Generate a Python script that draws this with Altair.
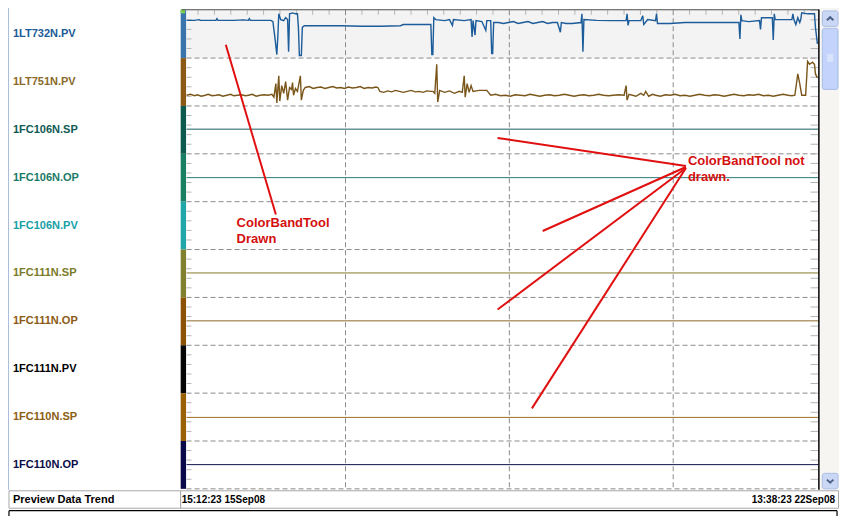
import altair as alt
import pandas as pd

# ---------------- data ----------------
TAGS = ["1LT732N.PV", "1LT751N.PV", "1FC106N.SP", "1FC106N.OP", "1FC106N.PV",
        "1FC111N.SP", "1FC111N.OP", "1FC111N.PV", "1FC110N.SP", "1FC110N.OP"]
LABEL_COLORS = ["#1b5b97", "#8a6a2a", "#0f5a55", "#1a7a68", "#17a0a6",
                "#7a7a28", "#8b5a14", "#000000", "#8b5e12", "#0c0c48"]
STRIP_COLORS = ["#3b73ad", "#8c5a14", "#0f5a4f", "#1a7f62", "#20a8a8",
                "#80802f", "#8b5206", "#050505", "#9a6004", "#0a0a4a"]

# flat traces (percent of band)
FLAT_BANDS = [2, 3, 5, 6, 8, 9]
FLAT_VALUES = [51.5, 50.2, 51.1, 51.0, 49.3, 50.6]
FLAT_COLORS = ["#1b5e5e", "#2a7a7e", "#8a7a2e", "#8b6a2a", "#a0701c", "#10104e"]

N_SAMPLES = 649
GRID_SAMPLES = [167, 334, 501]
START_LABEL = "15:12:23 15Sep08"
END_LABEL = "13:38:23 22Sep08"
STATUS_LABEL = "Preview Data Trend"

# 1LT732N.PV  (sample index, percent of band)
LT732_S = [5, 13, 18, 19, 28, 35, 36, 37, 53, 63, 68, 69, 70, 85, 91, 93, 95, 97, 98, 99,
           101, 104, 106, 108, 109, 110, 113, 116, 118, 119, 120, 122, 123, 125, 143, 163,
           183, 203, 223, 226, 243, 254, 255, 256, 257, 259, 268, 273, 276, 277, 288, 295,
           296, 297, 299, 300, 306, 310, 311, 315, 316, 317, 318, 323, 328, 333, 338, 343,
           348, 353, 358, 363, 368, 373, 378, 383, 386, 387, 392, 398, 407, 408, 409, 410,
           423, 438, 453, 454, 455, 456, 468, 470, 471, 475, 483, 484, 485, 498, 513, 533,
           553, 568, 569, 570, 571, 578, 589, 590, 591, 602, 603, 604, 605, 613, 622, 623,
           624, 626, 628, 630, 631, 632, 638, 645, 646, 648]
LT732_V = [78.9, 78.9, 80.4, 78.9, 78.9, 78.9, 82.4, 78.9, 78.9, 79.8, 78.9, 82.4, 78.9, 78.9,
           78.9, 76.3, 43.9, 7.4, 43.9, 92.5, 80.4, 78.3, 84.4, 80.4, 13.5, 92.5, 94.5, 92.5,
           92.5, 64.1, 5.4, 5.4, 64.1, 67.6, 67.6, 67.6, 66.6, 66.6, 67.6, 70.2, 70.2, 70.2,
           7.4, 7.4, 84.4, 80.4, 78.3, 80.4, 68.2, 80.4, 78.3, 80.4, 43.9, 78.3, 48.0, 78.3,
           76.3, 58.1, 78.3, 78.3, 9.5, 9.5, 74.3, 74.3, 72.3, 74.3, 76.3, 72.3, 74.3, 76.3,
           72.3, 74.3, 76.3, 72.3, 74.3, 74.3, 54.0, 74.3, 72.3, 72.3, 74.3, 92.5, 13.5, 80.4,
           78.9, 78.3, 78.3, 92.5, 68.2, 78.3, 78.3, 88.5, 70.2, 80.4, 78.3, 92.5, 72.3, 72.3,
           74.3, 74.3, 74.3, 74.3, 39.8, 90.5, 78.3, 76.3, 78.3, 60.1, 84.4, 84.4, 37.8, 92.5,
           80.4, 80.4, 80.4, 92.5, 80.4, 70.2, 84.4, 74.3, 80.4, 94.5, 92.5, 92.5, 64.1, 29.7]

# 1LT751N.PV  (sample index, percent of band)
LT751_S = [5, 9, 13, 16, 20, 24, 27, 31, 35, 38, 42, 46, 50, 53, 57, 61, 65, 68, 72, 76, 80, 84, 88,
           92, 94, 96, 97, 99, 100, 102, 104, 106, 108, 110, 112, 113, 114, 116, 118, 121, 122, 124,
           126, 130, 134, 138, 142, 146, 150, 154, 158, 162, 166, 170, 174, 178, 182, 186, 190, 194,
           198, 200,
           202, 206, 210, 214, 218, 222, 226, 230, 234, 238, 242, 246, 250, 254, 256,
           258, 260, 261, 263, 268, 273, 278, 283, 286, 288, 289, 291, 293, 295, 297, 303, 311,
           315, 320, 325, 330, 335, 340, 345, 350, 355, 360, 365, 370, 375, 380, 385, 390, 395, 400,
           405, 410, 415, 420, 425, 430, 435, 440, 445, 451,
           453, 454, 456, 463, 468, 471, 473, 476, 480,
           483, 488, 493, 498, 503, 508, 513, 518, 523, 528, 533, 538, 543, 548, 553, 558, 563, 568,
           573, 578, 583, 588, 593, 598, 603, 608, 613, 618, 622, 625,
           628, 630, 632, 636, 638, 640, 643, 645, 646, 648]
LT751_V = [22.4, 24.4, 21.3, 23.4, 20.3, 22.4, 24.4, 21.3, 22.4, 23.4, 20.3, 22.4, 24.4, 21.3, 22.4,
           23.4, 21.3, 22.4, 24.4, 20.3, 22.4, 23.4, 22.4,
           24.4, 18.3, 46.7, 6.2, 62.9, 10.2, 42.6, 26.4, 50.7, 12.2, 38.6, 34.5, 48.7, 22.4, 36.5,
           30.5, 62.9, 12.2, 32.5,
           38.6, 40.6, 36.5, 38.6, 39.6, 36.5, 38.6, 40.6, 37.6, 38.6, 36.5, 39.6, 37.6, 38.6, 40.6,
           36.5, 38.6, 37.6, 39.6, 38.6,
           30.5, 28.4, 31.5, 29.5, 32.5, 30.5, 28.4, 30.5, 32.5, 29.5, 30.5, 28.4, 31.5, 30.5, 30.5,
           26.4, 87.2, 8.2, 32.5, 28.4, 31.5, 26.4, 30.5, 28.4, 62.9, 18.3, 46.7, 28.4, 42.6, 30.5,
           32.5, 32.5,
           22.4, 24.4, 21.3, 22.4, 20.3, 23.4, 22.4, 21.3, 24.4, 22.4, 20.3, 22.4, 23.4, 21.3, 22.4,
           24.4, 22.4, 20.3, 22.4, 23.4, 21.3, 22.4, 24.4, 22.4, 21.3, 22.4, 23.4, 22.4,
           42.6, 12.2, 24.4, 20.3, 26.4, 22.4, 30.5, 20.3, 24.4,
           22.4, 20.3, 23.4, 22.4, 24.4, 21.3, 22.4, 20.3, 22.4, 24.4, 22.4, 21.3, 23.4, 22.4, 20.3,
           22.4, 24.4, 22.4, 21.3, 23.4, 22.4, 24.4, 21.3, 22.4, 20.3, 22.4, 24.4, 22.4, 21.3, 22.4,
           66.9, 46.7, 22.4, 22.4, 93.3, 87.2, 91.3, 87.2, 66.9, 58.8]


# ---------------- screen helpers (reference pixels -> sample / band units) ----------------
def PX(x):
    return x - 177


def PY(y):
    return (y - 2.3) / 49.37


X = alt.Scale(domain=[PX(0), PX(847)], nice=False, zero=False)
Y = alt.Scale(domain=[PY(0), PY(524)], reverse=True, nice=False, zero=False)


def xq(f):
    return alt.X(f, type="quantitative", scale=X, axis=None)


def yq(f):
    return alt.Y(f, type="quantitative", scale=Y, axis=None)


layers = []

# chrome rectangles (no stroke)
fills = pd.DataFrame([
    dict(x=PX(181), x2=PX(826), y=PY(2.3), y2=PY(51.7), fill="#f3f3f3"),
    dict(x=PX(828), x2=PX(847), y=PY(0), y2=PY(497), fill="#f6f5f1"),
])
layers.append(alt.Chart(fills).mark_rect().encode(
    x=xq("x"), x2="x2", y=yq("y"), y2="y2", fill=alt.Fill("fill:N", scale=None)))

# status bar cells
cells = pd.DataFrame([
    dict(x=PX(1), x2=PX(176), y=PY(498), y2=PY(516)),
    dict(x=PX(176), x2=PX(846.5), y=PY(498), y2=PY(516)),
])
layers.append(alt.Chart(cells).mark_rect(fill="white", stroke="#a8a8a8", strokeWidth=1).encode(
    x=xq("x"), x2="x2", y=yq("y"), y2="y2"))

# scrollbar buttons / thumb
sb = pd.DataFrame([
    dict(x=PX(830), x2=PX(846), y=PY(3), y2=PY(19), fill="#cad8f6"),
    dict(x=PX(830), x2=PX(846), y=PY(21), y2=PY(84), fill="#c3d3fb"),
    dict(x=PX(830), x2=PX(846), y=PY(480), y2=PY(496), fill="#cad8f6"),
])
layers.append(alt.Chart(sb).mark_rect(stroke="#a9bde6", strokeWidth=1, cornerRadius=2).encode(
    x=xq("x"), x2="x2", y=yq("y"), y2="y2", fill=alt.Fill("fill:N", scale=None)))

# color band strip
strip = pd.DataFrame({"band": list(range(len(TAGS))), "color": STRIP_COLORS})
strip["y2"] = strip["band"] + 1
strip["x"] = PX(176)
strip["x2"] = PX(181.5)
layers.append(alt.Chart(strip).mark_rect().encode(
    x=xq("x"), x2="x2", y=yq("band"), y2="y2", fill=alt.Fill("color:N", scale=None)))
marker = pd.DataFrame([dict(x=PX(176), x2=PX(180.5), y=PY(1.5), y2=PY(5.5))])
layers.append(alt.Chart(marker).mark_rect(fill="#7fd04e").encode(
    x=xq("x"), x2="x2", y=yq("y"), y2="y2"))

# dashed grid
hgrid = pd.DataFrame({"u": list(range(1, len(TAGS) + 1))})
hgrid["x"] = PX(182)
hgrid["x2"] = N_SAMPLES
layers.append(alt.Chart(hgrid).mark_rule(color="#8a8a8a", strokeDash=[5, 3], strokeWidth=1).encode(
    x=xq("x"), x2="x2", y=yq("u")))
vgrid = pd.DataFrame({"s": GRID_SAMPLES, "y": 0, "y2": len(TAGS)})
layers.append(alt.Chart(vgrid).mark_rule(color="#8a8a8a", strokeDash=[5, 3], strokeWidth=1).encode(
    x=xq("s"), y=yq("y"), y2="y2"))

# minor ticks
ticks = []
for k in range(len(TAGS) * 5):
    u = k * 0.2
    if k % 5 != 0:
        ticks.append(dict(x=PX(182), x2=PX(187), y=u, y2=u))
    ticks.append(dict(x=PX(818), x2=PX(826), y=u, y2=u))
for k in range(1, 39):
    s = k * 16.7
    if k % 10 != 0:
        ticks.append(dict(x=s, x2=s, y=PY(2.3), y2=PY(7)))
tick_df = pd.DataFrame(ticks)
layers.append(alt.Chart(tick_df).mark_rule(color="#b4b4b4", strokeWidth=1).encode(
    x=xq("x"), x2="x2", y=yq("y"), y2="y2"))

# flat traces
flat = pd.DataFrame({"band": FLAT_BANDS, "v": FLAT_VALUES, "color": FLAT_COLORS})
flat["s0"] = 5
flat["s1"] = N_SAMPLES
layers.append(alt.Chart(flat).transform_calculate(u="datum.band + 1 - datum.v / 100").mark_rule(
    strokeWidth=1).encode(x=xq("s0"), x2="s1", y=yq("u"), color=alt.Color("color:N", scale=None)))

# noisy traces
d732 = pd.DataFrame({"s": LT732_S, "v": LT732_V, "band": 0})
d751 = pd.DataFrame({"s": LT751_S, "v": LT751_V, "band": 1})
for df, col in ((d751, "#7a561a"), (d732, "#1c5c9a")):
    layers.append(alt.Chart(df).transform_calculate(u="datum.band + 1 - datum.v / 100").mark_line(
        color=col, strokeWidth=1.4, interpolate="linear").encode(
        x=xq("s"), y=yq("u"), order="s:Q"))

# borders
borders = pd.DataFrame([
    dict(x=PX(177), x2=PX(826.5), y=PY(1.8), y2=PY(1.8), c="#4a4a4a", w=1.2),
    dict(x=PX(826.5), x2=PX(826.5), y=PY(1.5), y2=PY(497), c="#000000", w=1.5),
    dict(x=PX(0.5), x2=PX(0.5), y=PY(0), y2=PY(497), c="#a9bfd9", w=1),
    dict(x=PX(1), x2=PX(845), y=PY(518.5), y2=PY(518.5), c="#000000", w=1.2),
    dict(x=PX(1), x2=PX(1), y=PY(518.5), y2=PY(524), c="#000000", w=1.2),
    dict(x=PX(845), x2=PX(845), y=PY(518.5), y2=PY(524), c="#000000", w=1.2),
])
for yy in (48.5, 50.5, 52.5, 54.5):
    borders = pd.concat([borders, pd.DataFrame([dict(x=PX(835), x2=PX(841), y=PY(yy), y2=PY(yy),
                                                     c="#eef3fd", w=1)])])
layers.append(alt.Chart(borders).mark_rule().encode(
    x=xq("x"), x2="x2", y=yq("y"), y2="y2", color=alt.Color("c:N", scale=None),
    strokeWidth=alt.StrokeWidth("w:Q", scale=None)))

# scrollbar chevrons
chev_up = pd.DataFrame([dict(x=PX(838), y=PY(11))])
chev_dn = pd.DataFrame([dict(x=PX(838), y=PY(488))])
layers.append(alt.Chart(chev_up).mark_point(shape="M-1,0.5L0,-0.45L1,0.5", filled=False, size=42,
                                            strokeWidth=2, color="#4d6185", opacity=1).encode(
    x=xq("x"), y=yq("y")))
layers.append(alt.Chart(chev_dn).mark_point(shape="M-1,-0.45L0,0.5L1,-0.45", filled=False, size=42,
                                            strokeWidth=2, color="#4d6185", opacity=1).encode(
    x=xq("x"), y=yq("y")))

# tag labels
labels = pd.DataFrame({"tag": TAGS, "band": list(range(len(TAGS))), "color": LABEL_COLORS})
labels["x"] = PX(5)
layers.append(alt.Chart(labels).transform_calculate(u="datum.band + 0.5").mark_text(
    align="left", baseline="middle", font="Liberation Sans", fontSize=11, fontWeight="bold").encode(
    x=xq("x"), y=yq("u"), text="tag:N", color=alt.Color("color:N", scale=None)))

# status bar texts
status_name = pd.DataFrame([dict(x=PX(5), y=PY(507.5), t=STATUS_LABEL)])
status_left = pd.DataFrame([dict(x=PX(177), y=PY(507.5), t=START_LABEL)])
status_right = pd.DataFrame([dict(x=PX(843), y=PY(507.5), t=END_LABEL)])
layers.append(alt.Chart(status_name).mark_text(
    align="left", baseline="middle", font="Liberation Sans", fontSize=11,
    fontWeight="bold", color="black").encode(x=xq("x"), y=yq("y"), text="t:N"))
layers.append(alt.Chart(status_left).mark_text(
    align="left", baseline="middle", font="Liberation Sans", fontSize=10,
    fontWeight="bold", color="black").encode(x=xq("x"), y=yq("y"), text="t:N"))
layers.append(alt.Chart(status_right).mark_text(
    align="right", baseline="middle", font="Liberation Sans", fontSize=10,
    fontWeight="bold", color="black").encode(x=xq("x"), y=yq("y"), text="t:N"))

# annotation arrows
arrows = pd.DataFrame([
    dict(x=PX(222), y=PY(38), x2=PX(273), y2=PY(213)),
    dict(x=PX(499), y=PY(134), x2=PX(691), y2=PY(163)),
    dict(x=PX(545), y=PY(230), x2=PX(691), y2=PY(164)),
    dict(x=PX(499), y=PY(311), x2=PX(691), y2=PY(165)),
    dict(x=PX(534), y=PY(413), x2=PX(691), y2=PY(165)),
])
layers.append(alt.Chart(arrows).mark_rule(color="#e01010", strokeWidth=2).encode(
    x=xq("x"), x2="x2", y=yq("y"), y2="y2"))

notes = pd.DataFrame([
    dict(x=PX(233), y=PY(226), t="ColorBandTool"),
    dict(x=PX(233), y=PY(242), t="Drawn"),
    dict(x=PX(693), y=PY(162), t="ColorBandTool not"),
    dict(x=PX(693), y=PY(178), t="drawn."),
])
layers.append(alt.Chart(notes).mark_text(
    align="left", baseline="alphabetic", font="Liberation Sans", fontSize=13, fontWeight="bold",
    color="#d40f0f").encode(x=xq("x"), y=yq("y"), text="t:N"))

chart = alt.layer(*layers).properties(
    width=831, height=508, padding=0, background="white",
    autosize=alt.AutoSizeParams(type="none"),
).configure_view(strokeWidth=0)

chart.save("out.html", embed_options={"renderer": "svg", "actions": False})
